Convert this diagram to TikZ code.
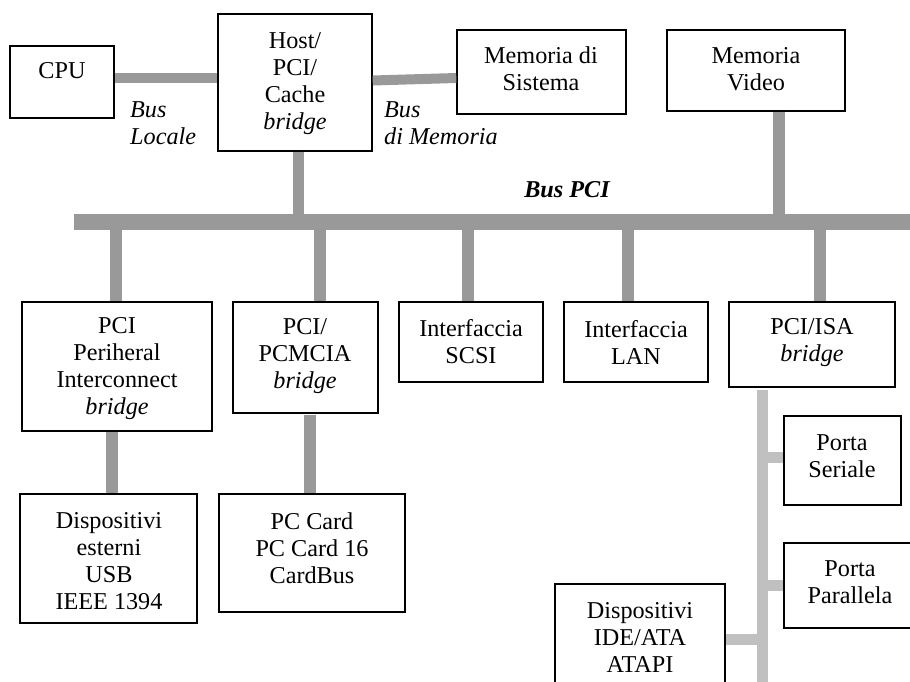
\documentclass[tikz,border=0pt]{standalone}
\usepackage{fontspec}
\setmainfont{Liberation Serif}
\definecolor{busdark}{HTML}{999999}
\definecolor{buslight}{HTML}{C0C0C0}
\tikzset{
  box/.style={draw=black, line width=1.4pt, fill=white, rectangle, inner sep=0pt},
  txt/.style={align=center, inner sep=0pt, font=\fontsize{24.2}{27}\selectfont},
  itxt/.style={align=left, inner sep=0pt, font=\fontsize{24.2}{27}\selectfont\itshape},
  pcibus/.style={draw=busdark, line width=16pt},
  link/.style={draw=busdark, line width=12pt},
  isabus/.style={draw=buslight, line width=11pt},
}
\newcommand{\boxat}[5]{\node[box, minimum width={(#4-#2)*1pt}, minimum height={(#5-#3)*1pt}] (#1) at ({(#2+#4)/2},{(#3+#5)/2}) {};}
\begin{document}
\begin{tikzpicture}[x=1pt, y=-1pt]
\useasboundingbox (0,0) rectangle (910,682);
\begin{scope}
\clip (0,0) rectangle (910,682);
% buses (behind boxes)
\coordinate (pciL) at (74,222);
\coordinate (pciR) at (912,222);
\draw[pcibus] (pciL) -- (pciR);
\coordinate (isaTop) at (762,390);
\coordinate (isaBot) at (762,684);
\draw[isabus] (isaTop) -- (isaBot);
% boxes
\boxat{cpu}{10}{46}{114}{118}
\boxat{host}{218}{14}{372}{151}
\boxat{memsys}{457}{30}{626}{114}
\boxat{memvid}{667}{30}{845}{111}
\boxat{pcip}{22}{302}{212}{431}
\boxat{pcmcia}{233}{302}{378}{413}
\boxat{scsi}{399}{302}{543}{382}
\boxat{lan}{564}{302}{708}{382}
\boxat{isa}{729}{302}{895}{387}
\boxat{usb}{20}{494}{197}{623}
\boxat{pccard}{219}{494}{405}{612}
\boxat{ser}{784}{416}{901}{505}
\boxat{par}{784}{543}{930}{628}
\boxat{ide}{555}{584}{725}{720}
% connectors
\draw[busdark, line width=10pt] (cpu.east |- 0,78) -- (host.west |- 0,78);
\draw[busdark, line width=10pt] (host.east |- 0,80.5) -- (memsys.west |- 0,78);
\draw[busdark, line width=11pt] (host.south -| 298,0) -- (298,214);
\draw[busdark, line width=12pt] (memvid.south -| 779,0) -- (779,214);
\draw[link] (116,229) -- (pcip.north -| 116,0);
\draw[link] (320,229) -- (pcmcia.north -| 320,0);
\draw[link] (468,229) -- (scsi.north -| 468,0);
\draw[link] (628,229) -- (lan.north -| 628,0);
\draw[link] (820,229) -- (isa.north -| 820,0);
\draw[link] (pcip.south -| 112,0) -- (usb.north -| 112,0);
\draw[link] (310,415) -- (pccard.north -| 310,0);
\draw[isabus] (767,457) -- (ser.west |- 0,457);
\draw[isabus] (767,585) -- (par.west |- 0,585);
\draw[isabus] (ide.east |- 0,639) -- (757,639);
% texts
\node[txt] (cpu-t) at (62,71) {CPU};
\node[txt] (host-t) at (295,84) {Host/\\PCI/\\Cache\\\textit{bridge}};
\node[txt] (memsys-t) at (541,69) {Memoria di\\Sistema};
\node[txt] (memvid-t) at (756,69) {Memoria\\Video};
\node[txt] (pcip-t) at (117,369) {PCI\\Periheral\\Interconnect\\\textit{bridge}};
\node[txt] (pcmcia-t) at (305,356) {PCI/\\PCMCIA\\\textit{bridge}};
\node[txt] (scsi-t) at (471,342) {Interfaccia\\SCSI};
\node[txt] (lan-t) at (636,342) {Interfaccia\\LAN};
\node[txt] (isa-t) at (812,343) {PCI/ISA\\\textit{bridge}};
\node[txt] (usb-t) at (109,561) {Dispositivi\\esterni\\USB\\IEEE 1394};
\node[txt] (pccard-t) at (312,548) {PC Card\\PC Card 16\\CardBus};
\node[txt] (ser-t) at (842,456) {Porta\\Seriale};
\node[txt] (par-t) at (850,582) {Porta\\Parallela};
\node[txt] (ide-t) at (640,637) {Dispositivi\\IDE/ATA\\ATAPI};
\node[itxt, anchor=base west] (buslocale) at (130,145) {Bus\\Locale};
\node[itxt, anchor=base west] (busmem) at (384,145) {Bus\\di Memoria};
\node[txt, font=\fontsize{24.2}{27}\selectfont\bfseries\itshape, anchor=base] (buspci) at (567,197) {Bus PCI};
\end{scope}
\end{tikzpicture}
\end{document}
